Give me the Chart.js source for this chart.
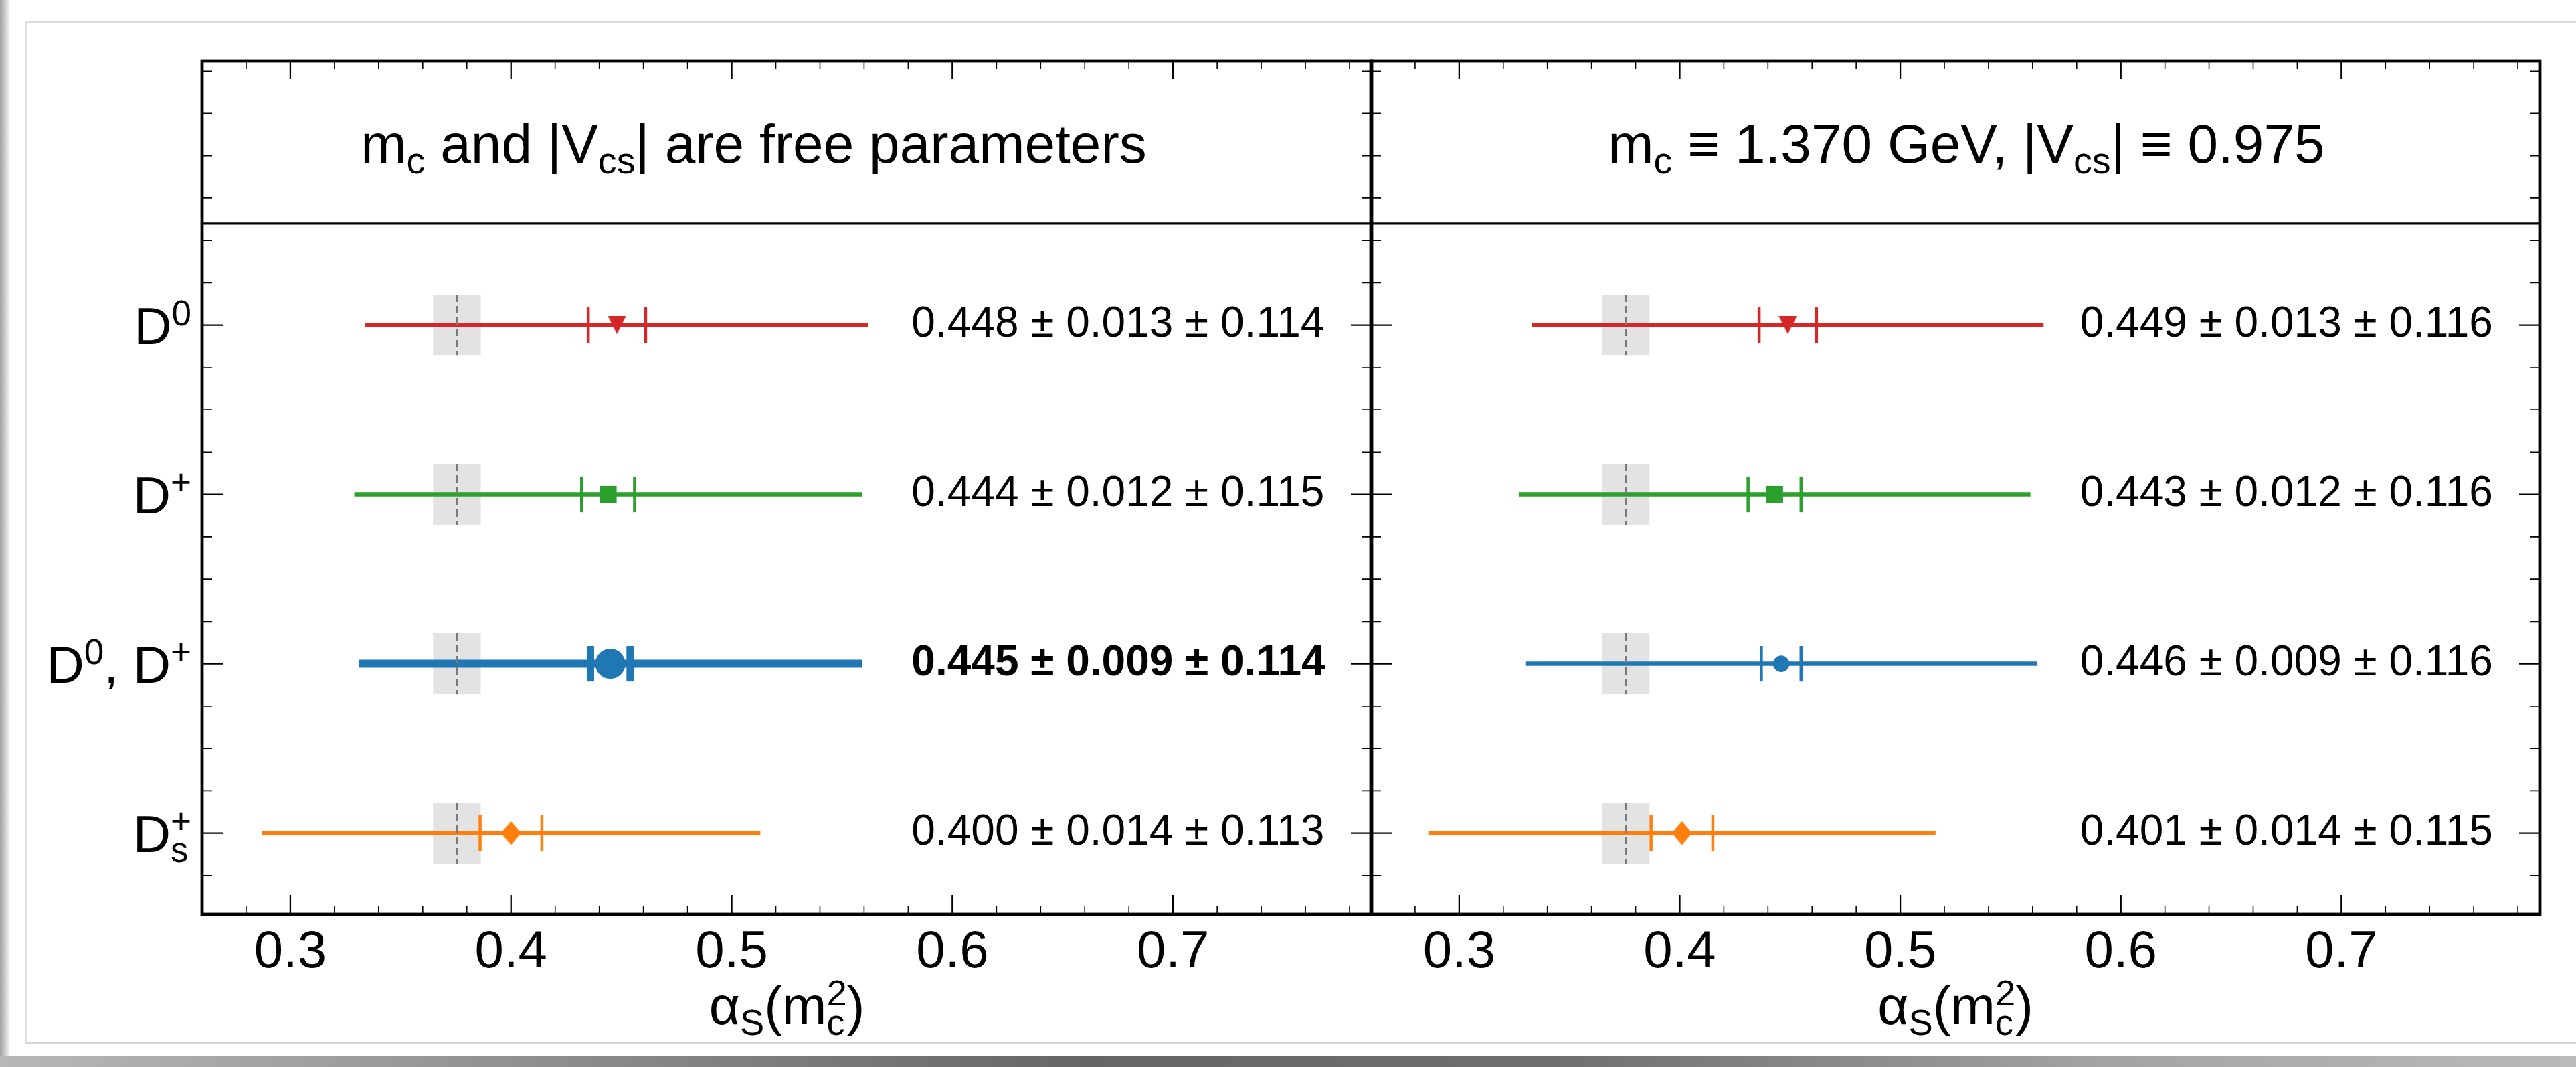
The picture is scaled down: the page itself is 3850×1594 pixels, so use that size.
<!DOCTYPE html>
<html>
<head>
<meta charset="utf-8">
<title>alpha_s(m_c^2) from D meson decays</title>
<script src="https://cdn.jsdelivr.net/npm/chart.js@4.4.0/dist/chart.umd.min.js"></script>
<style>
  body { margin: 0; background: #fff; width: 3850px; height: 1594px; position: relative; overflow: hidden; }
  canvas { position: absolute; top: 0; }
  #freeChart { left: 0; }
  #fixedChart { left: 2000px; }
  .edge { position: absolute; }
</style>
</head>
<body>
<!-- page edge and shadow -->
<div class="edge" style="left:0;top:0;width:15px;height:1594px;background:linear-gradient(to right,#a2a2a2,#dadada 70%,#fff)"></div>
<div class="edge" style="left:38px;top:32px;width:3812px;border-top:2px solid #dcdcdc"></div>
<div class="edge" style="left:38px;top:32px;height:1526px;border-left:2px solid #e2e2e2"></div>
<div class="edge" style="left:38px;top:1557px;width:3812px;border-top:2px solid #d6d6d6"></div>
<div class="edge" style="left:0;top:1577px;width:3850px;height:17px;background:linear-gradient(to right,#b8b8b8 0%,#949494 18%,#666 42%,#6e6e6e 60%,#a4a4a4 82%,#bababa 100%)"></div>

<canvas id="freeChart" width="2100" height="1594"></canvas>
<canvas id="fixedChart" width="1850" height="1594"></canvas>

<script>
// rows, top to bottom
const rows = ['D^{0}', 'D^{+}', 'D^{0}, D^{+}', 'D_{s}^{+}'];
const rowPos = [3, 2, 1, 0];

// m_c and |V_cs| free
const freeCentral = [0.448, 0.444, 0.445, 0.400];
const freeStat = [0.013, 0.012, 0.009, 0.014];
const freeSyst = [0.114, 0.115, 0.114, 0.113];

// m_c and |V_cs| fixed
const fixedCentral = [0.449, 0.443, 0.446, 0.401];
const fixedStat = [0.013, 0.012, 0.009, 0.014];
const fixedSyst = [0.116, 0.116, 0.116, 0.115];

// reference value (dashed line + grey band)
const refAlpha = 0.3755;
const refAlphaErr = 0.0108;

const xTicks = [0.3, 0.4, 0.5, 0.6, 0.7];
const headers = ['m_{c} and |V_{cs}| are free parameters', 'm_{c} ≡ 1.370 GeV, |V_{cs}| ≡ 0.975'];
const xTitle = 'α_{S}(m_{c}^{2})';

const rowColors = ['#d62728', '#2ca02c', '#1f77b4', '#ff7f0e'];
const rowMarkers = ['triangleDown', 'square', 'circle', 'diamond'];

const FONT = "'Liberation Sans', Arial, Helvetica, sans-serif";
Chart.defaults.font.family = FONT;
Chart.defaults.animation = false;

const X_MIN = 0.26, X_MAX = 0.79, Y_MIN = -0.48, Y_MAX = 4.56;
const HEADER_LINE = 3.6;
const HEADER_BASE = 3.96;
const BAND_HALF = 0.18;
const CAP_HALF = 0.105;
const LABEL_X = 0.5815;

// tiny mathtext: handles _{..} and ^{..}, stacked when both follow each other
function richParts(str) {
  const re = /([_^])\{([^}]*)\}(?:([_^])\{([^}]*)\})?|([^_^]+)/g;
  const out = [];
  let m;
  while ((m = re.exec(str))) {
    if (m[5] !== undefined) { out.push({ text: m[5] }); continue; }
    const part = {};
    part[m[1] === '^' ? 'sup' : 'sub'] = m[2];
    if (m[3]) part[m[3] === '^' ? 'sup' : 'sub'] = m[4];
    out.push(part);
  }
  return out;
}

function drawRich(ctx, str, x, y, size, align, weight) {
  const parts = richParts(str);
  const small = size * 0.68;
  const f = s => `${weight || 'normal'} ${s}px ${FONT}`;
  const widths = parts.map(p => {
    if (p.text !== undefined) { ctx.font = f(size); return ctx.measureText(p.text).width; }
    ctx.font = f(small);
    return Math.max(p.sup ? ctx.measureText(p.sup).width : 0, p.sub ? ctx.measureText(p.sub).width : 0);
  });
  const total = widths.reduce((s, w) => s + w, 0);
  let cx = align === 'right' ? x - total : align === 'center' ? x - total / 2 : x;
  ctx.textAlign = 'left';
  ctx.textBaseline = 'alphabetic';
  ctx.fillStyle = '#000';
  parts.forEach((p, i) => {
    if (p.text !== undefined) {
      ctx.font = f(size);
      ctx.fillText(p.text, cx, y);
    } else {
      ctx.font = f(small);
      if (p.sup) ctx.fillText(p.sup, cx, y - size * 0.35);
      if (p.sub) ctx.fillText(p.sub, cx, y + size * 0.2);
    }
    cx += widths[i];
  });
}

function markerStyle(kind, color, big) {
  if (kind === 'circle') return { pointStyle: 'circle', pointRadius: big ? 22.5 : 12.3 };
  if (kind === 'square') return { pointStyle: 'rect', pointRadius: 18 };
  const w = kind === 'diamond' ? 30 : 27;
  const h = kind === 'diamond' ? 36 : 27;
  const c = document.createElement('canvas');
  c.width = w; c.height = h;
  const g = c.getContext('2d');
  g.fillStyle = color;
  g.beginPath();
  if (kind === 'diamond') {
    g.moveTo(w / 2, 0); g.lineTo(w, h / 2); g.lineTo(w / 2, h); g.lineTo(0, h / 2);
  } else {
    g.moveTo(0, 0); g.lineTo(w, 0); g.lineTo(w / 2, h);
  }
  g.closePath();
  g.fill();
  return { pointStyle: c, pointRadius: 14 };
}

function buildDatasets(p) {
  const sets = [];
  rows.forEach((_, i) => {
    const big = i === p.highlight;
    const color = rowColors[i];
    const y = rowPos[i];
    const v = p.central[i];
    sets.push({
      data: [{ x: v - p.syst[i], y }, { x: v + p.syst[i], y }],
      showLine: true, borderColor: color, borderWidth: big ? 12 : 6.5,
      borderCapStyle: 'butt', pointRadius: 0, order: 3
    });
    [v - p.stat[i], v + p.stat[i]].forEach(e => sets.push({
      data: [{ x: e, y: y - CAP_HALF }, { x: e, y: y + CAP_HALF }],
      showLine: true, borderColor: color, borderWidth: big ? 11 : 4.5,
      borderCapStyle: 'butt', pointRadius: 0, order: 2
    }));
    const m = markerStyle(rowMarkers[i], color, big);
    sets.push({
      data: [{ x: v, y }],
      pointStyle: m.pointStyle, pointRadius: m.pointRadius,
      backgroundColor: color, borderColor: color, borderWidth: 0, pointBorderWidth: 0, order: 1
    });
  });
  return sets;
}

function decor(p) {
  return {
    id: 'decor',
    beforeDatasetsDraw(chart) {
      const { ctx, scales: { x, y } } = chart;
      const x0 = x.getPixelForValue(refAlpha - refAlphaErr);
      const x1 = x.getPixelForValue(refAlpha + refAlphaErr);
      ctx.save();
      ctx.fillStyle = '#e3e3e3';
      rowPos.forEach(r => {
        const y0 = y.getPixelForValue(r + BAND_HALF);
        const y1 = y.getPixelForValue(r - BAND_HALF);
        ctx.fillRect(x0, y0, x1 - x0, y1 - y0);
      });
      ctx.restore();
    },
    afterDatasetsDraw(chart) {
      const { ctx, scales: { x, y } } = chart;
      const xr = x.getPixelForValue(refAlpha);
      ctx.save();
      ctx.strokeStyle = '#7a7a7a';
      ctx.lineWidth = 3.2;
      ctx.setLineDash([11, 6]);
      rowPos.forEach(r => {
        ctx.beginPath();
        ctx.moveTo(xr, y.getPixelForValue(r + BAND_HALF));
        ctx.lineTo(xr, y.getPixelForValue(r - BAND_HALF));
        ctx.stroke();
      });
      ctx.restore();
    },
    afterDraw(chart) {
      const { ctx, chartArea: a, scales: { x, y } } = chart;
      ctx.save();
      ctx.strokeStyle = '#000';
      // inward ticks on all four sides
      for (let k = Math.ceil(X_MIN * 50); k <= Math.floor(X_MAX * 50); k++) {
        const px = x.getPixelForValue(k / 50);
        if (px < a.left + 3 || px > a.right - 3) continue;
        const major = k % 5 === 0;
        ctx.lineWidth = major ? 2.3 : 1.6;
        ctx.beginPath();
        ctx.moveTo(px, a.bottom); ctx.lineTo(px, a.bottom - (major ? 29 : 13));
        ctx.moveTo(px, a.top); ctx.lineTo(px, a.top + (major ? 27 : 12));
        ctx.stroke();
      }
      for (let q = Math.ceil(Y_MIN * 4); q <= Math.floor(Y_MAX * 4); q++) {
        const v = q / 4;
        const py = y.getPixelForValue(v);
        if (py < a.top + 3 || py > a.bottom - 3) continue;
        const major = rowPos.includes(v);
        ctx.lineWidth = major ? 2.3 : 1.6;
        ctx.beginPath();
        ctx.moveTo(a.left, py); ctx.lineTo(a.left + (major ? 31 : 15), py);
        ctx.moveTo(a.right, py); ctx.lineTo(a.right - (major ? 31 : 15), py);
        ctx.stroke();
      }
      // header separator and frame
      const hy = y.getPixelForValue(HEADER_LINE);
      ctx.lineWidth = 3.3;
      ctx.beginPath(); ctx.moveTo(a.left, hy); ctx.lineTo(a.right, hy); ctx.stroke();
      ctx.lineWidth = 4.8;
      ctx.strokeRect(a.left, a.top, a.right - a.left, a.bottom - a.top);

      drawRich(ctx, p.header, x.getPixelForValue(p.headerX), y.getPixelForValue(HEADER_BASE), 82, 'center');

      rows.forEach((label, i) => {
        const py = y.getPixelForValue(rowPos[i]);
        const txt = `${p.central[i].toFixed(3)} ± ${p.stat[i].toFixed(3)} ± ${p.syst[i].toFixed(3)}`;
        ctx.font = `${i === p.highlight ? 'bold ' : ''}64px ${FONT}`;
        ctx.fillStyle = '#000';
        ctx.textAlign = 'left';
        ctx.textBaseline = 'alphabetic';
        ctx.fillText(txt, x.getPixelForValue(LABEL_X), py + 17);
        if (p.rowLabels) drawRich(ctx, label, a.left - 16, py + 28, 78, 'right');
      });

      drawRich(ctx, xTitle, (a.left + a.right) / 2, a.bottom + 164, 80, 'center');
      ctx.restore();
    }
  };
}

const panels = [
  { canvas: 'freeChart', central: freeCentral, stat: freeStat, syst: freeSyst,
    header: headers[0], headerX: 0.51, highlight: 2, rowLabels: true,
    padding: { left: 302, right: 50, top: 91, bottom: 0 } },
  { canvas: 'fixedChart', central: fixedCentral, stat: fixedStat, syst: fixedSyst,
    header: headers[1], headerX: 0.53, highlight: -1, rowLabels: false,
    padding: { left: 49, right: 54, top: 91, bottom: 0 } }
];

panels.forEach(p => {
  const ctx = document.getElementById(p.canvas).getContext('2d');
  new Chart(ctx, {
    type: 'scatter',
    data: { datasets: buildDatasets(p) },
    options: {
      responsive: false,
      devicePixelRatio: 1,
      events: [],
      layout: { padding: p.padding },
      plugins: { legend: { display: false }, tooltip: { enabled: false } },
      scales: {
        x: {
          type: 'linear', min: X_MIN, max: X_MAX,
          afterBuildTicks: s => { s.ticks = xTicks.map(v => ({ value: v })); },
          afterFit: s => { s.height = 228; },
          grid: { display: false },
          border: { display: false },
          ticks: {
            color: '#000', padding: 3, maxRotation: 0,
            font: { family: FONT, size: 78 },
            callback: v => v.toFixed(1)
          }
        },
        y: { type: 'linear', min: Y_MIN, max: Y_MAX, display: false }
      }
    },
    plugins: [decor(p)]
  });
});
</script>
</body>
</html>
